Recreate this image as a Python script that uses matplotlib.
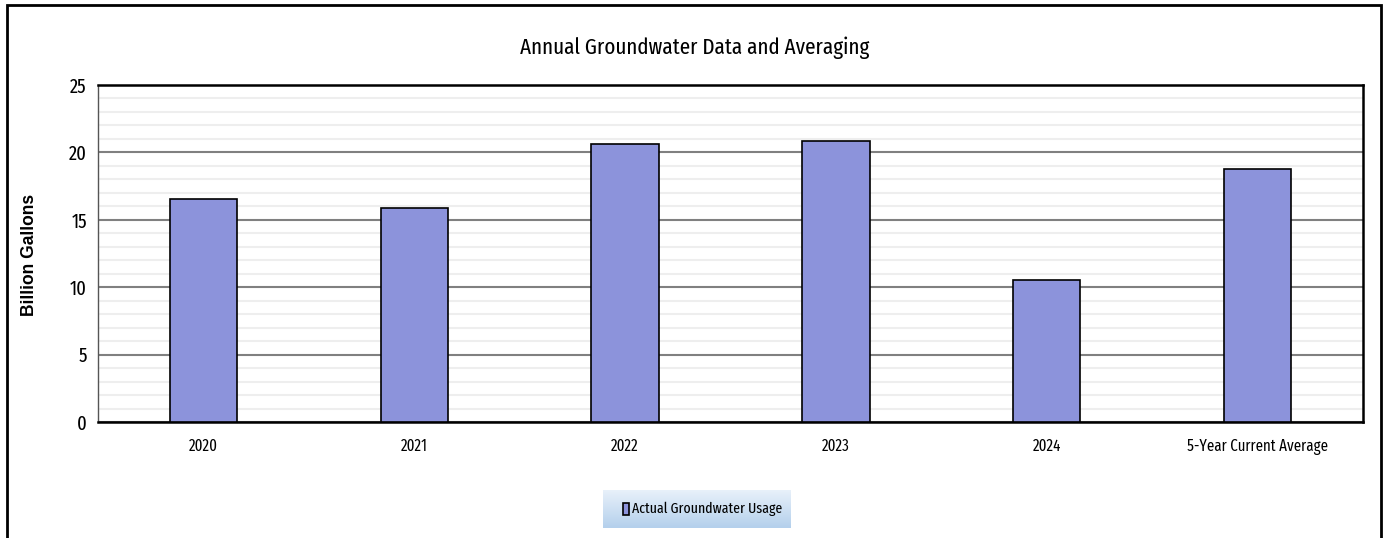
import matplotlib
matplotlib.use("Agg")
import matplotlib.pyplot as plt
import numpy as np
from matplotlib.patches import Rectangle
from matplotlib.colors import LinearSegmentedColormap
from matplotlib.font_manager import fontManager

categories = ["2020", "2021", "2022", "2023", "2024", "5-Year Current Average"]
values = [16.54, 15.88, 20.62, 20.85, 10.53, 18.77]
yticks = [0, 5, 10, 15, 20, 25]

names = {f.name for f in fontManager.ttflist}
narrow = next((n for n in ["Fira Sans Extra Condensed", "Open Sans Condensed", "Fira Sans Condensed",
                           "Roboto Condensed", "Carlito"] if n in names), "DejaVu Sans")
arial = next((n for n in ["Liberation Sans", "Arimo", "DejaVu Sans"] if n in names), "DejaVu Sans")

W, H = 1390, 538
fig = plt.figure(figsize=(W/100, H/100), dpi=100)
ax = fig.add_axes([98/W, 1-422/H, (1363-98)/W, (422-85)/H])

x = np.arange(len(categories))
ax.bar(x, values, width=0.32, color="#8c93db", edgecolor="black", linewidth=1.2, zorder=3)
ax.set_xlim(-0.5, len(categories)-0.5)
ax.set_ylim(0, 25)
ax.set_yticks(yticks)
ax.set_yticks(np.arange(0, 26, 1), minor=True)
ax.grid(axis="y", which="major", color="#808080", linewidth=1.5, zorder=1)
ax.grid(axis="y", which="minor", color="#eeeeee", linewidth=1.5, zorder=0)
ax.set_xticks(x)
ax.set_xticklabels(categories, fontfamily=narrow, fontsize=12)
for lbl in ax.get_yticklabels():
    lbl.set_fontfamily(narrow); lbl.set_fontsize(14.5)
ax.tick_params(axis="both", which="both", length=0)
ax.tick_params(axis="y", pad=8)
ax.tick_params(axis="x", pad=12)
for s in ["top", "right"]:
    ax.spines[s].set_linewidth(1.8)
ax.spines["left"].set_linewidth(1.0)
ax.spines["left"].set_color("#555555")
ax.spines["bottom"].set_linewidth(1.8)

title = fig.text(695/W, 1-48/H, "Annual Groundwater Data and Averaging", ha="center", va="center",
                 fontfamily=narrow, fontsize=17)
ylab = fig.text(30/W, 1-255/H, "Billion Gallons", rotation=90, ha="center", va="center",
                fontfamily=arial, fontweight="bold", fontsize=11)

fig.patches.append(Rectangle((7/W, -0.05), (1381-7)/W, 1.05-5/H, transform=fig.transFigure,
                             fill=False, edgecolor="black", linewidth=2))

lax = fig.add_axes([603/W, 1-528/H, (791-603)/W, (528-490)/H])
grad = np.linspace(0, 1, 50).reshape(-1, 1)
cmap = LinearSegmentedColormap.from_list("g", ["#b4d0ec", "#e9f1fa"])
lax.imshow(grad, aspect="auto", cmap=cmap, extent=[0, 1, 0, 1], origin="lower")
lax.set_xlim(0, 1); lax.set_ylim(0, 1)
lax.axis("off")
lax.add_patch(Rectangle((0.105, 0.33), 0.035, 0.34, facecolor="#8c93db", edgecolor="black", linewidth=1.2))
leg = lax.text(0.155, 0.5, "Actual Groundwater Usage", ha="left", va="center", fontfamily=narrow, fontsize=12)

# fit font sizes to the widths measured on the reference (slightly enlarged: the reference glyphs are taller)
fig.canvas.draw()
r = fig.canvas.get_renderer()
def fit(t, target, horiz=True):
    bb = t.get_window_extent(r)
    cur = bb.width if horiz else bb.height
    t.set_fontsize(t.get_fontsize() * target / cur)
fit(title, 350)
fit(ylab, 124, horiz=False)
fit(leg, 150)
xl = ax.get_xticklabels()
bb = xl[-1].get_window_extent(r)
xs = 12 * 142 / bb.width
for t in xl:
    t.set_fontsize(xs)

fig.savefig("out.png", dpi=100)
